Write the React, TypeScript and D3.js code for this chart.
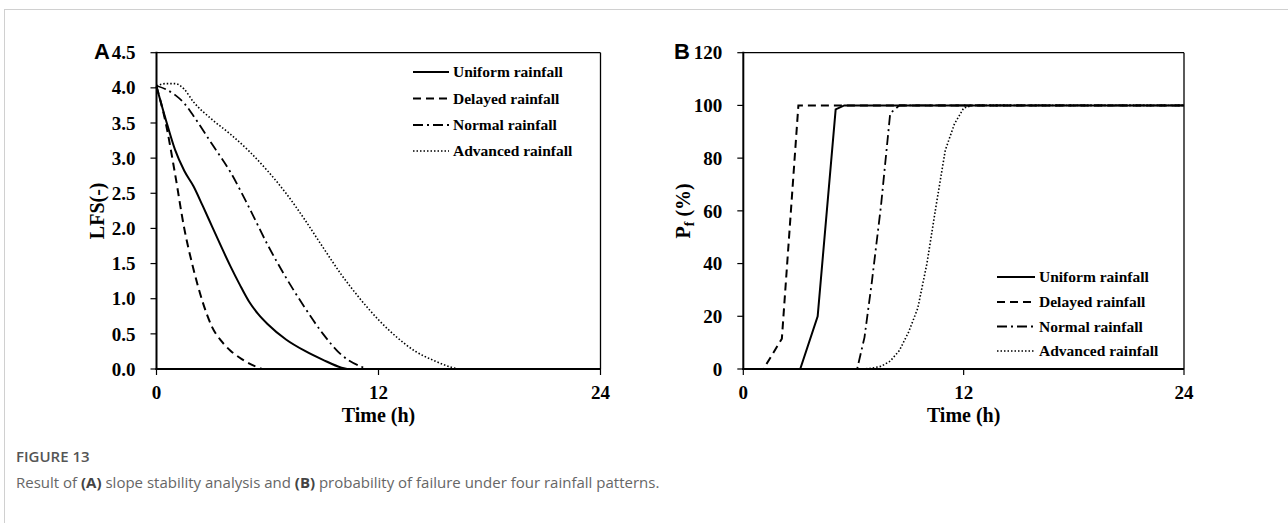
import React from "react";
import * as d3 from "d3";

// LFS(-) vs time (h), panel A
const uniformLFS = [[0, 4.02], [0.5, 3.55], [1, 3.12], [1.5, 2.82], [2, 2.6], [2.5, 2.32], [3, 2.03], [3.5, 1.74], [4, 1.46], [4.5, 1.2], [5, 0.96], [5.5, 0.78], [6, 0.64], [7, 0.42], [8, 0.26], [9, 0.13], [10, 0.02], [10.3, 0]];
const delayedLFS = [[0, 4.02], [0.5, 3.5], [1, 2.78], [1.5, 2.0], [2, 1.42], [2.5, 0.95], [3, 0.6], [3.5, 0.4], [4, 0.26], [4.5, 0.16], [5, 0.08], [5.7, 0]];
const normalLFS = [[0, 4.03], [0.5, 3.98], [1, 3.9], [1.5, 3.78], [2, 3.6], [3, 3.2], [4, 2.8], [5, 2.3], [6, 1.77], [7, 1.3], [8, 0.88], [9, 0.5], [10, 0.2], [11, 0.04], [11.4, 0]];
const advancedLFS = [[0, 4.03], [0.5, 4.06], [1, 4.06], [1.5, 3.98], [2, 3.8], [3, 3.55], [4, 3.34], [5, 3.1], [6, 2.82], [7, 2.5], [8, 2.13], [9, 1.73], [10, 1.34], [11, 1.0], [12, 0.7], [13, 0.45], [14, 0.25], [15, 0.12], [16, 0.02], [16.3, 0]];

// Pf (%) vs time (h), panel B
const uniformPf = [[0, 0], [3.1, 0], [4.05, 20], [5.03, 98.5], [5.5, 100], [24, 100]];
const delayedPf = [[0, 0], [1.1, 0], [2.1, 11.5], [3.0, 100], [24, 100]];
const normalPf = [[0, 0], [6.2, 0], [6.6, 12], [7.0, 33], [7.5, 62], [8.0, 97], [8.5, 100], [24, 100]];
const advancedPf = [[0, 0], [6.5, 0], [7, 0.3], [7.5, 1], [8, 3], [8.5, 7], [9, 14], [9.5, 23], [10, 40], [10.5, 62], [11, 83], [11.5, 93], [12, 99], [12.5, 100], [24, 100]];

const seriesNames = ["Uniform rainfall", "Delayed rainfall", "Normal rainfall", "Advanced rainfall"];
const timeTicks = [0, 12, 24];
const lfsTicks = [0, 0.5, 1, 1.5, 2, 2.5, 3, 3.5, 4, 4.5];
const pfTicks = [0, 20, 40, 60, 80, 100, 120];

const styles = [
  { dash: null, width: 2 },
  { dash: "8,5", width: 2 },
  { dash: "10,4,2,4", width: 1.8 },
  { dash: "1.5,2", width: 1.6 },
];

const serif = "'Liberation Serif', 'Times New Roman', serif";

const Panel = props => {
  const { left, right, top, bottom, yMax, yTicks, yFmt, data, curve, legend, letter, letterX, yLabel, yLabelX } = props;
  const x = d3.scaleLinear().domain([0, 24]).range([left, right]);
  const y = d3.scaleLinear().domain([0, yMax]).range([bottom, top]);
  const line = d3.line().x(d => x(d[0])).y(d => y(d[1])).curve(curve);
  const order = [3, 2, 1, 0];

  return (
    <g>
      <text x={letterX} y={top + 6} fontFamily="'Liberation Sans', Arial, sans-serif" fontWeight="bold" fontSize={22}>{letter}</text>
      {/* frame */}
      <line x1={left} x2={right} y1={top} y2={top} stroke="#000" strokeWidth={1.3} />
      <line x1={right} x2={right} y1={top} y2={bottom} stroke="#000" strokeWidth={1.3} />
      {/* y ticks */}
      {yTicks.map(t => (
        <g key={t}>
          <line x1={left - 6} x2={left} y1={y(t)} y2={y(t)} stroke="#000" strokeWidth={1.2} />
          <text x={left - 21} y={y(t)} dy="0.35em" textAnchor="end" fontFamily={serif} fontWeight="bold" fontSize={19}>{yFmt(t)}</text>
        </g>
      ))}
      {/* x ticks */}
      {timeTicks.map(t => (
        <g key={t}>
          <line x1={x(t)} x2={x(t)} y1={bottom} y2={bottom + 6} stroke="#000" strokeWidth={1.2} />
          <text x={x(t)} y={bottom + 30} textAnchor="middle" fontFamily={serif} fontWeight="bold" fontSize={19}>{t}</text>
        </g>
      ))}
      <text x={(left + right) / 2} y={bottom + 53} textAnchor="middle" fontFamily={serif} fontWeight="bold" fontSize={20}>Time (h)</text>
      <text transform={`translate(${yLabelX},${(top + bottom) / 2}) rotate(-90)`} textAnchor="middle" fontFamily={serif} fontWeight="bold" fontSize={20}>{yLabel}</text>
      {/* series */}
      {order.map(i => (
        <path key={i} d={line(data[i])} fill="none" stroke="#000" strokeWidth={styles[i].width} strokeDasharray={styles[i].dash} />
      ))}
      <line x1={left} x2={left} y1={top - 1} y2={bottom + 1} stroke="#000" strokeWidth={2} />
      <line x1={left - 1} x2={right} y1={bottom} y2={bottom} stroke="#000" strokeWidth={2} />
      {/* legend */}
      {seriesNames.map((n, i) => (
        <g key={n}>
          <line x1={legend.x} x2={legend.x + legend.len} y1={legend.ys[i]} y2={legend.ys[i]} stroke="#000" strokeWidth={styles[i].width} strokeDasharray={styles[i].dash} />
          <text x={legend.x + legend.len + 4} y={legend.ys[i]} dy="0.35em" fontFamily={serif} fontWeight="bold" fontSize={15.5}>{n}</text>
        </g>
      ))}
    </g>
  );
};

const App = () => {
  return (
    <svg width={1288} height={523} style={{ position: "absolute", left: 0, top: 0, background: "#fff" }}>
      <rect width={1288} height={523} fill="#fff" />
      <line x1={4} x2={1288} y1={9.5} y2={9.5} stroke="#d0d0d0" strokeWidth={1} />
      <line x1={4.5} x2={4.5} y1={9.5} y2={523} stroke="#d0d0d0" strokeWidth={1} />
      <Panel
        left={156.5} right={600.5} top={52.7} bottom={369}
        yMax={4.5} yTicks={lfsTicks} yFmt={d3.format(".1f")}
        data={[uniformLFS, delayedLFS, normalLFS, advancedLFS]}
        curve={d3.curveMonotoneX}
        legend={{ x: 413, len: 36, ys: [72, 98.5, 125, 151] }}
        letter="A" letterX={94}
        yLabel="LFS(-)" yLabelX={104}
      />
      <Panel
        left={743.3} right={1184} top={52.7} bottom={369}
        yMax={120} yTicks={pfTicks} yFmt={d => String(d)}
        data={[uniformPf, delayedPf, normalPf, advancedPf]}
        curve={d3.curveLinear}
        legend={{ x: 997, len: 38, ys: [277, 302, 326.5, 351] }}
        letter="B" letterX={674}
        yLabel={<>P<tspan fontSize={14} dy="4">f</tspan><tspan dy="-4"> (%)</tspan></>} yLabelX={690}
      />
      <text x={16} y={462} fontFamily="'Open Sans', 'Noto Sans', sans-serif" fontWeight="600" fontSize={15} fill="#555">FIGURE 13</text>
      <text x={16} y={488} fontFamily="'Open Sans', 'Noto Sans', sans-serif" fontSize={15} fill="#666">
        Result of <tspan fontWeight="bold" fill="#444">(A)</tspan> slope stability analysis and <tspan fontWeight="bold" fill="#444">(B)</tspan> probability of failure under four rainfall patterns.
      </text>
    </svg>
  );
};

export default App;
